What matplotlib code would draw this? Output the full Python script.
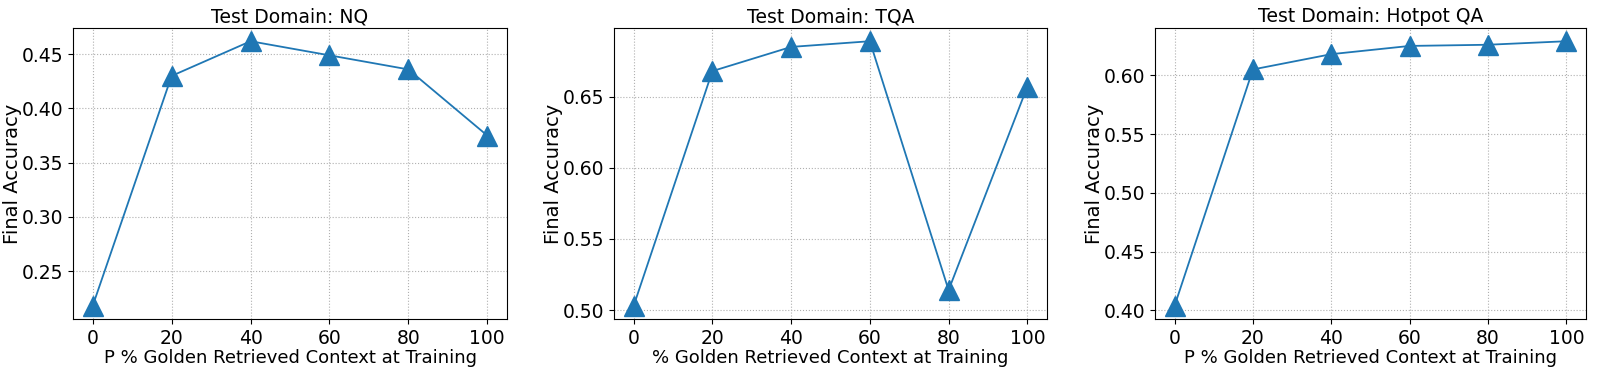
import matplotlib
matplotlib.use("Agg")
import matplotlib.pyplot as plt

x_pct = [0, 20, 40, 60, 80, 100]

nq_acc = [0.218, 0.430, 0.462, 0.449, 0.436, 0.375]
tqa_acc = [0.503, 0.668, 0.685, 0.689, 0.514, 0.657]
hotpot_acc = [0.404, 0.605, 0.618, 0.625, 0.626, 0.629]

titles = ["Test Domain: NQ", "Test Domain: TQA", "Test Domain: Hotpot QA"]
xlabels = ["P % Golden Retrieved Context at Training",
           "% Golden Retrieved Context at Training",
           "P % Golden Retrieved Context at Training"]

W, H = 1613, 372
fig = plt.figure(figsize=(W / 100, H / 100), dpi=100)

# axes boxes in pixels: left, right
boxes = [(73, 507), (614, 1047), (1155, 1586)]
top, bottom = 28, 319

for (l, r), ys, title, xl in zip(boxes, [nq_acc, tqa_acc, hotpot_acc], titles, xlabels):
    ax = fig.add_axes([l / W, 1 - bottom / H, (r - l) / W, (bottom - top) / H])
    ax.plot(x_pct, ys, marker="^", markersize=14, color="#1f77b4", linewidth=1.3)
    ax.set_xticks(x_pct)
    ax.grid(True, linestyle=":", color="#b0b0b0", linewidth=0.8)
    ax.set_title(title, fontsize=13.5, pad=4)
    ax.set_xlabel(xl, fontsize=13, labelpad=1)
    ax.set_ylabel("Final Accuracy", fontsize=14, labelpad=0)
    ax.tick_params(labelsize=13.5)

fig.savefig("out.png", dpi=100)
